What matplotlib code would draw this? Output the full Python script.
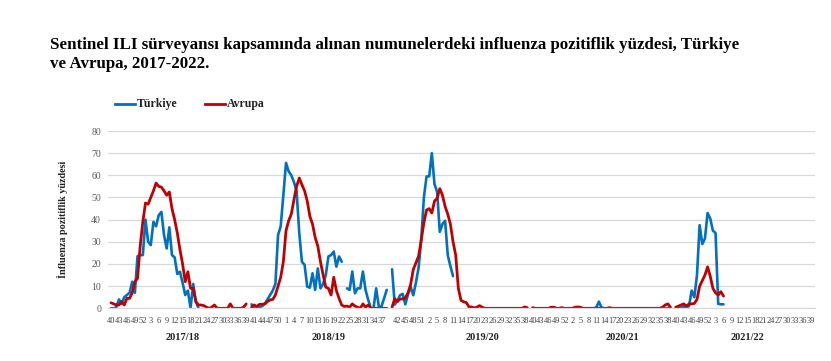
import numpy as np
import matplotlib
matplotlib.use("Agg")
import matplotlib.pyplot as plt
from matplotlib.lines import Line2D
from matplotlib.transforms import blended_transform_factory

nan = np.nan

# ---------------- data ----------------
seasons = ["2017/18", "2018/19", "2019/20", "2020/21", "2021/22"]

turkiye_1718 = [0, 0, 0.5, 4, 2, 5, 6, 7, 12, 7, 23.5, 24, 24, 40, 30, 28.5, 39, 37, 42, 43.5,
                33, 27, 36.5, 24, 23, 15.5, 16.5, 11.5, 6, 8, 0, 11, 3, 0] + [nan] * 18
avrupa_1718 = [2.5, 2, 1.5, 1.5, 3, 1.5, 4.5, 4.5, 7, 12, 13.5, 28, 39, 47.5, 47, 50, 53, 56.5, 55, 54.7,
               53, 51, 52.5, 45, 40, 34, 26.5, 20, 12, 16.5, 9, 9, 3, 1.5, 1.5, 1.2, 0.5, 0, 0.5, 1.5,
               0, 0, 0, 0, 0, 2, 0, 0, 0, 0, 0.5, 2]

turkiye_1819 = [1.8, 0, 0, 0.5, 1, 2, 4, 6, 8, 11,
                33, 37, 51, 65.6, 61.8, 60, 57, 52.8, 34, 21,
                19.6, 9.8, 9.3, 15.8, 8.3, 18, 9, 11, 15, 23.4,
                24, 25.6, 18.8, 23.4, 21, nan, 9, 8.3, 16.6, 6.8,
                9, 9, 16.6, 8.3, 3.8, 0, 0, 9, 0.8, 0.8, 4.5, 8.3]
avrupa_1819 = [0.5, 1.5, 0.8, 1.8, 1.8, 2, 3, 3.8, 4, 6,
               10, 14, 21, 35, 39.5, 42.5, 49, 55, 58.8, 55.8,
               53, 48.5, 41.5, 38, 32, 28, 21, 15, 9.5, 9,
               6, 14, 8, 4.5, 1.5, 0.8, 1, 0.5, 2, 1,
               0.5, 0, 2, 0.5, 1.5, 0, 0, 0, 0, 0, 0, 0]

turkiye_1920 = [17.6, 1.7, 3.3, 5.9, 6.5, 1.8, 6.2, 9.7, 5.9, 11.6,
                18.3, 30.8, 50, 59.5, 59.5, 70, 56, 52.5, 34.5, 38,
                39.5, 24, 19, 14.5] + [nan] * 28
avrupa_1920 = [0.5, 4.4, 3, 4.2, 4.2, 4.7, 7, 10.7, 17.5, 20.5,
               23.5, 30.8, 38.6, 44.3, 45, 43, 48.4, 49.6, 54, 51,
               46, 42.5, 38, 30, 24, 9, 3.6, 2.9, 2.6, 0.6,
               0.6, 0.2, 0.5, 1.2, 0.5] + [0] * 15 + [0.6, 0.3]

turkiye_2021 = [0] * 24 + [0.3, 3, 0.3] + [0] * 26
avrupa_2021 = [0.3, 0, 0, 0, 0, 0, 0, 0.5, 0.5, 0,
               0, 0.3, 0, 0, 0, 0, 0.5, 0.6, 0.5, 0,
               0, 0, 0, 0, 0, 0, 0, 0, 0, 0.3,
               0, 0, 0, 0, 0, 0, 0, 0, 0, 0,
               0, 0, 0, 0, 0, 0, 0, 0, 0, 0.5,
               1.5, 2, 0.5]

turkiye_2122 = [0.3, 0.3, 0.3, 0.8, 0.3, 1, 8, 5, 15, 37.5,
                29, 31.5, 43, 40.5, 35, 34, 2, 1.8, 1.8] + [nan] * 33
avrupa_2122 = [0.5, 1.0, 1.5, 2.0, 1.0, 2.0, 2.0, 2.2, 4, 10,
               12.5, 15, 18.7, 14.5, 9, 7, 6, 7.5, 5.5] + [nan] * 33

tick_labels = ["40", "43", "46", "49", "52", "3", "6", "9", "12", "15", "18", "21", "24", "27", "30", "33", "36", "39",
               "41", "44", "47", "50", "1", "4", "7", "10", "13", "16", "19", "22", "25", "28", "31", "34", "37",
               "",
               "42", "45", "48", "51", "2", "5", "8", "11", "14", "17", "20", "23", "26", "29", "32", "35", "38",
               "40", "43", "46", "49", "52", "2", "5", "8", "11", "14", "17", "20", "23", "26", "29", "32", "35", "38",
               "40", "43", "46", "49", "52", "3", "6", "9", "12", "15", "18", "21", "24", "27", "30", "33", "36", "39"]

series_t = [turkiye_1718, turkiye_1819, turkiye_1920, turkiye_2021, turkiye_2122]
series_a = [avrupa_1718, avrupa_1819, avrupa_1920, avrupa_2021, avrupa_2122]

turkiye = []
avrupa = []
for i, (st, sa) in enumerate(zip(series_t, series_a)):
    if i > 0:
        turkiye.append(nan)
        avrupa.append(nan)
    turkiye += st
    avrupa += sa
turkiye = np.array(turkiye, dtype=float)
avrupa = np.array(avrupa, dtype=float)
x = np.arange(len(turkiye))

# ---------------- layout ----------------
W, H = 831, 361
serif = "Liberation Serif"
plt.rcParams["font.family"] = [serif, "DejaVu Serif"]

fig = plt.figure(figsize=(W / 100, H / 100), dpi=100)
fig.patch.set_facecolor("white")

ax_left, ax_right, ax_top, ax_bottom = 108, 815, 131, 308.3
ax = fig.add_axes([ax_left / W, 1 - ax_bottom / H, (ax_right - ax_left) / W, (ax_bottom - ax_top) / H])

blue = "#0070C0"
red = "#C00000"
ax.plot(x, turkiye, color=blue, lw=1.9, solid_joinstyle="round", solid_capstyle="round")
ax.plot(x, avrupa, color=red, lw=2.0, solid_joinstyle="round", solid_capstyle="round")

px_per = (811 - 111) / 264.0
ax.set_xlim((ax_left - 111) / px_per, (ax_right - 111) / px_per)
ax.set_ylim(0, 80)
ax.set_yticks(range(0, 81, 10))
ax.grid(axis="y", color="#D9D9D9", lw=0.9)
ax.set_axisbelow(True)
for s in ["top", "right", "left"]:
    ax.spines[s].set_visible(False)
ax.spines["bottom"].set_color("#D9D9D9")
ax.spines["bottom"].set_linewidth(0.9)

ax.set_xticks(np.arange(0, len(x), 3))
ax.set_xticklabels(tick_labels, fontsize=6, color="#404040")
ax.tick_params(axis="x", length=0, pad=6)
ax.tick_params(axis="y", length=0, pad=5, labelsize=7, labelcolor="#595959")

# season labels
season_x = [27, 82, 140, 193, 240]
trans = blended_transform_factory(ax.transData, fig.transFigure)
for sx, lab in zip(season_x, seasons):
    ax.text(sx, 1 - 338 / H, lab, transform=trans, ha="center", va="center",
            fontsize=7.5, fontweight="bold", color="#222222")

# y label
fig.text(62 / W, 1 - 219 / H, "İnfluenza pozitiflik yüzdesi", rotation=90, ha="center", va="center",
         fontsize=7.3, fontweight="bold", color="#222222")

# title
fig.text(50 / W, 1 - 37 / H,
         "Sentinel ILI sürveyansı kapsamında alınan numunelerdeki influenza pozitiflik yüzdesi, Türkiye\nve Avrupa, 2017-2022.",
         ha="left", va="top", fontsize=12.2, fontweight="bold", color="black", linespacing=1.25)

# legend
ly = 1 - 104 / H
fig.add_artist(Line2D([115 / W, 135 / W], [ly, ly], transform=fig.transFigure, color=blue, lw=2))
fig.text(137 / W, ly, "Türkiye", ha="left", va="center", fontsize=8.5, fontweight="bold", color="#222222")
fig.add_artist(Line2D([205 / W, 225 / W], [ly, ly], transform=fig.transFigure, color=red, lw=2))
fig.text(227 / W, ly, "Avrupa", ha="left", va="center", fontsize=8.5, fontweight="bold", color="#222222")

fig.savefig("out.png", dpi=100)
